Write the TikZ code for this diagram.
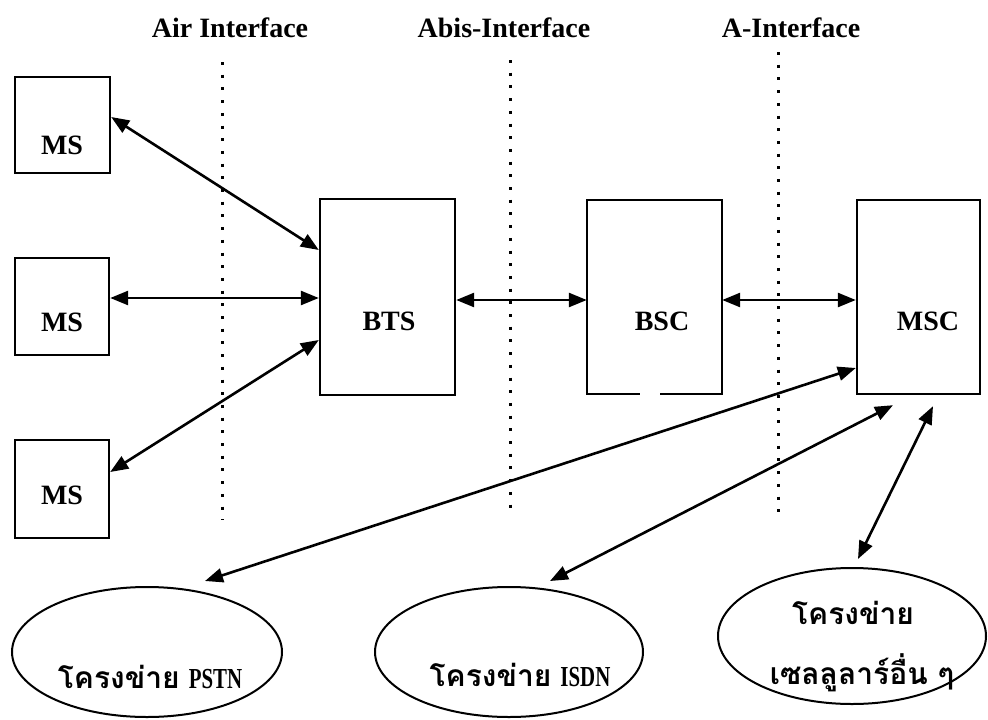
\documentclass[tikz,border=0pt]{standalone}
\usepackage{fontspec}
\setmainfont{Liberation Serif}
\newfontfamily\thaifont[Script=Thai]{Loma}
\newfontfamily\condserif[FakeStretch=0.72]{Liberation Serif}
\usetikzlibrary{arrows.meta,shapes.geometric,calc}
\begin{document}
\begin{tikzpicture}[x=1pt,y=-1pt,
  box/.style={draw,line width=2.4pt,inner sep=0pt},
  oval/.style={draw,ellipse,line width=2pt,inner sep=0pt},
  boxlbl/.style={font=\bfseries\fontsize{28}{32}\selectfont,inner sep=0pt},
  toplbl/.style={font=\bfseries\fontsize{28}{32}\selectfont,inner sep=0pt},
  netlbl/.style={inner sep=0pt,align=center},
  link/.style={line width=2.6pt,{Triangle[length=18pt,width=14pt]}-{Triangle[length=18pt,width=14pt]}},
  sep/.style={line width=3pt,dash pattern=on 3pt off 9.7pt}]
\useasboundingbox[fill=white] (0,0) rectangle (988,720);
\newcommand{\thl}[1]{{\thaifont\bfseries\fontsize{30}{34}\selectfont #1}}
\newcommand{\lat}[1]{{\condserif\bfseries\fontsize{29}{32}\selectfont #1}}
% interface labels
\node[toplbl] (tair) at (230,28) {Air Interface};
\node[toplbl] (tabis) at (504,28) {Abis-Interface};
\node[toplbl] (ta) at (791,28) {A-Interface};
% dotted separators
\coordinate (s1a) at (222,62); \coordinate (s1b) at (222,520);
\coordinate (s2a) at (510,60); \coordinate (s2b) at (510,517);
\coordinate (s3a) at (778,52); \coordinate (s3b) at (778,513);
\draw[sep] (s1a) -- (s1b);
\draw[sep] (s2a) -- (s2b);
\draw[sep] (s3a) -- (s3b);
% boxes
\node[box,minimum width=95pt,minimum height=96pt] (ms1) at (62.5,125) {};
\node[box,minimum width=94pt,minimum height=97pt] (ms2) at (62,306.5) {};
\node[box,minimum width=94pt,minimum height=98pt] (ms3) at (62,489) {};
\node[box,minimum width=135pt,minimum height=196pt] (bts) at (387.5,297) {};
\node[inner sep=0pt,minimum width=135pt,minimum height=194pt] (bsc) at (654.5,297) {};
\draw[line width=2.4pt] ($(bsc.south)+(5.5,0)$) -- (bsc.south east) -- (bsc.north east) -- (bsc.north west) -- (bsc.south west) -- ($(bsc.south)+(-14.5,0)$);
\node[box,minimum width=123pt,minimum height=194pt] (msc) at (918.5,297) {};
% box labels
\node[boxlbl] (lms1) at (62,145) {MS};
\node[boxlbl] (lms2) at (62,322) {MS};
\node[boxlbl] (lms3) at (62,495) {MS};
\node[boxlbl] (lbts) at (389,321) {BTS};
\node[boxlbl] (lbsc) at (662,321) {BSC};
\node[boxlbl] (lmsc) at (928,321) {MSC};
% networks
\node[oval,minimum width=270pt,minimum height=130pt] (pstn) at (147,652) {};
\node[oval,minimum width=268pt,minimum height=130pt] (isdn) at (509,652) {};
\node[oval,minimum width=268pt,minimum height=136pt] (cell) at (852,636) {};
\node[netlbl] (lpstn) at (150,677) {\thl{โครงข่าย}\hspace{9pt}\lat{PSTN}};
\node[netlbl] (lisdn) at (520,675) {\thl{โครงข่าย}\hspace{9pt}\lat{ISDN}};
\node[netlbl] (lcell1) at (853,613) {\thl{โครงข่าย}};
\node[netlbl] (lcell2) at (862,673) {\thl{เซลลูลาร์อื่น ๆ}};
% connectors
\draw[link] ($(ms1.east)+(0,-8)$) -- ($(bts.west)+(0,-47)$);
\draw[link] ($(ms2.east)+(0,-8.5)$) -- ($(bts.west)+(0,1)$);
\draw[link] ($(ms3.east)+(0,-17)$) -- ($(bts.west)+(0,43)$);
\draw[link] ($(bts.east)+(0,3)$) -- ($(bsc.west)+(0,3)$);
\draw[link] ($(bsc.east)+(0,3)$) -- ($(msc.west)+(0,3)$);
\draw[link] ($(msc.west)+(0,71)$) -- ($(pstn.north)+(58,-5)$);
\draw[link] ($(msc.south)+(-25.5,10)$) -- ($(isdn.north)+(41,-5)$);
\draw[link] ($(msc.south)+(14.5,11)$) -- ($(cell.north)+(6,-8)$);
\end{tikzpicture}
\end{document}
